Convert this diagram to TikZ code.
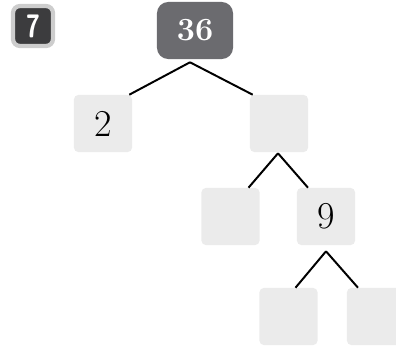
\documentclass[tikz,border=0pt]{standalone}
\usepackage{tikz}
\usepackage{xcolor}
\usetikzlibrary{calc}
\definecolor{rootGray}{RGB}{107, 107, 111}
\definecolor{boxGray}{RGB}{235, 235, 235}
\definecolor{badgeDark}{RGB}{60, 60, 62}
\definecolor{badgeGlow}{RGB}{205, 205, 205}

\begin{document}
\begin{tikzpicture}[x=0.025cm, y=-0.025cm]
        \tikzstyle{box} = [rectangle, rounded corners=3pt, minimum width=1.45cm, minimum height=1.425cm, fill=boxGray, font=\fontsize{27}{30}\selectfont, inner sep=0pt]
        \tikzstyle{root} = [rectangle, rounded corners=8pt, minimum width=1.9cm, minimum height=1.425cm, fill=rootGray, text=white, font=\fontsize{23}{26}\selectfont\bfseries, inner sep=0pt]
        \tikzstyle{badge} = [rectangle, rounded corners=5pt, minimum size=1cm, fill=badgeDark, draw=badgeGlow, line width=3pt, text=white, font=\fontsize{21}{24}\selectfont\sffamily\bfseries, inner sep=0pt]
        \tikzstyle{branch} = [line width=1.4pt, black]
        \useasboundingbox (0,0) rectangle (396,349);

        % Badge
        \node[badge] (badge) at (33,26) {\scalebox{0.85}[1.1]{7}};

        % Root
        \node[root] (n36) at (195,30.5) {36};

        % Level 1
        \node[box] (n2) at (103,123.5) {2};
        \node[box] (r1) at (279,123.5) {};

        % Level 2
        \node[box] (l2) at (230.5,216.5) {};
        \node[box] (n9) at (326,216.5) {9};

        % Level 3
        \node[box] (l3) at (288.5,316.5) {};
        \node[box] (r3) at (376,316.5) {};

        \draw[branch] ($(n36.south)+(-5,3)$) -- ($(n2.north east)+(-3,0)$);
        \draw[branch] ($(n36.south)+(-5,3)$) -- ($(r1.north west)+(3,0)$);
        \draw[branch] ($(r1.south)+(-1,1)$) -- ($(l2.north)+(18,0)$);
        \draw[branch] ($(r1.south)+(-1,1)$) -- ($(n9.north)+(-18,0)$);
        \draw[branch] ($(n9.south)+(0,6)$) -- ($(l3.north)+(7,0)$);
        \draw[branch] ($(n9.south)+(0,6)$) -- ($(r3.north)+(-18,0)$);
    \end{tikzpicture}
\end{document}
